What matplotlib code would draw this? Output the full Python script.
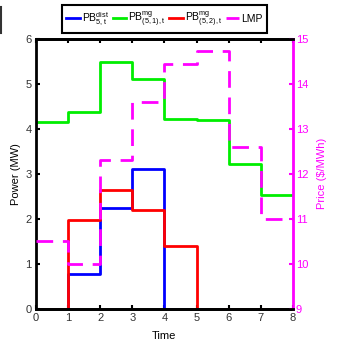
import numpy as np
import matplotlib
matplotlib.use('Agg')
import matplotlib.pyplot as plt
from matplotlib.lines import Line2D

plt.rcParams['font.family'] = ['Liberation Sans', 'DejaVu Sans']
plt.rcParams['mathtext.fontset'] = 'custom'
plt.rcParams['mathtext.rm'] = 'Liberation Sans'
plt.rcParams['mathtext.it'] = 'Liberation Sans'

# hourly data (time slots 0..8)
edges = np.arange(0, 9)
pb_dist = [0, 0.78, 2.25, 3.1, 0, 0, 0, 0]
pb_mg51 = [4.15, 4.38, 5.48, 5.1, 4.23, 4.2, 3.22, 2.52]
pb_mg52 = [0, 1.97, 2.65, 2.2, 1.4, 0, 0, 0]
lmp = [10.5, 10.0, 12.3, 13.6, 14.45, 14.73, 12.6, 11.0]

magenta = '#ff00ff'

def ext(v):
    return list(v) + [v[-1]]

fig = plt.figure(figsize=(3.45, 3.47), dpi=100)
ax = fig.add_axes([0.104, 0.110, 0.745, 0.778])
ax2 = ax.twinx()

l1, = ax.step(edges, ext(pb_dist), where='post', color='#0000ff', lw=2)
l2, = ax.step(edges, ext(pb_mg51), where='post', color='#00ee00', lw=2)
l3, = ax.step(edges, ext(pb_mg52), where='post', color='#ff0000', lw=2)
l4, = ax2.step(edges, ext(lmp), where='post', color=magenta, lw=2,
               dashes=(6, 3.5))

ax.set_xlim(0, 8)
ax.set_ylim(0, 6)
ax2.set_ylim(9, 15)
ax.set_xticks(range(9))
ax.set_yticks(range(7))
ax2.set_yticks(range(9, 16))

ax.set_xlabel('Time', fontsize=8, labelpad=6)
ax.set_ylabel('Power (MW)', fontsize=8, labelpad=3)
ax2.set_ylabel('Price ($/MWh)', fontsize=8, color=magenta, labelpad=6)

ax.tick_params(direction='in', length=3, width=1.5, labelsize=8,
               labelcolor='#333333', top=True, pad=3)
ax2.tick_params(direction='in', length=3, width=1.5, labelsize=8,
                colors=magenta, pad=2)

for s in ['left', 'top', 'bottom']:
    ax.spines[s].set_linewidth(2)
    ax2.spines[s].set_linewidth(2)
ax2.spines['right'].set_color(magenta)
ax2.spines['right'].set_linewidth(2)
ax2.spines['left'].set_visible(False)

labels = [r'PB$^{dist}_{5,t}$', r'PB$^{mg}_{(5,1),t}$',
          r'PB$^{mg}_{(5,2),t}$', 'LMP']
leg = fig.legend([l1, l2, l3, l4], labels, ncol=4, fontsize=7.5,
                 loc='center', bbox_to_anchor=(0.477, 0.945),
                 handlelength=1.3, handletextpad=0.2, columnspacing=0.35,
                 borderpad=0.4, borderaxespad=0, fancybox=False,
                 edgecolor='black', framealpha=1)
leg.get_frame().set_linewidth(1.5)

# stray edge mark at top-left of the original image
fig.add_artist(Line2D([0.003, 0.003], [0.905, 0.98], color='#333333',
                      lw=1.5, transform=fig.transFigure))

fig.savefig('out.png', dpi=100)
